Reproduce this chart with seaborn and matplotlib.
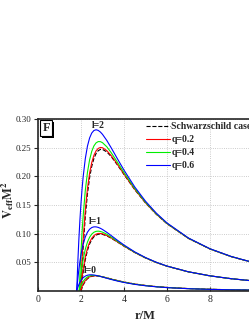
import matplotlib
matplotlib.use("Agg")
import matplotlib.pyplot as plt
import matplotlib.patheffects as pe
from matplotlib.lines import Line2D
import seaborn as sns

# radial grids (r/M) for each case
r_schw = [2.0, 2.05, 2.1, 2.2, 2.3, 2.4, 2.5, 2.6, 2.7, 2.8, 2.9, 3.0, 3.2, 3.4, 3.7,
          4.0, 4.5, 5, 5.5, 6, 7, 8, 9, 10, 11]
r_q02 = [1.98] + r_schw
r_q04 = [1.917, 1.95] + r_schw
r_q06 = [1.8, 1.85, 1.9, 1.95] + r_schw

# Schwarzschild case
v_schw_l0 = [0, 0.00566, 0.01028, 0.01707, 0.02144, 0.02411, 0.0256, 0.02626, 0.02635, 0.02603,
             0.02545, 0.02469, 0.02289, 0.02095, 0.01814, 0.01563, 0.01219, 0.0096, 0.00765,
             0.00617, 0.00417, 0.00293, 0.00213, 0.0016, 0.00123]
v_schw_l1 = [0, 0.01727, 0.03188, 0.05464, 0.07075, 0.08198, 0.0896, 0.09454, 0.09747, 0.09891,
             0.09925, 0.09876, 0.09613, 0.09219, 0.08527, 0.07813, 0.06706, 0.0576, 0.04973,
             0.04321, 0.03333, 0.02636, 0.02134, 0.0176, 0.01474]
v_schw_l2 = [0, 0.04048, 0.07507, 0.12977, 0.16938, 0.19772, 0.2176, 0.23109, 0.23972, 0.24469,
             0.24686, 0.24691, 0.24262, 0.23467, 0.21952, 0.20313, 0.17679, 0.1536, 0.13388,
             0.11729, 0.09164, 0.07324, 0.05976, 0.0496, 0.04178]

# q = 0.2
v_q02_l0 = [0, 0.00245, 0.00772, 0.01201, 0.01829, 0.02229, 0.0247, 0.026, 0.02652, 0.0265,
            0.02611, 0.02548, 0.02468, 0.02284, 0.02088, 0.01806, 0.01555, 0.01212, 0.00955,
            0.00761, 0.00614, 0.00415, 0.00291, 0.00212, 0.00159, 0.00123]
v_q02_l1 = [0, 0.00745, 0.02386, 0.03772, 0.05927, 0.07446, 0.08498, 0.09204, 0.09655, 0.09914,
            0.1003, 0.10042, 0.09974, 0.09685, 0.09271, 0.08561, 0.07836, 0.06718, 0.05768,
            0.04977, 0.04325, 0.03335, 0.02637, 0.02135, 0.0176, 0.01475]
v_q02_l2 = [0, 0.01745, 0.05613, 0.08914, 0.14122, 0.1788, 0.20554, 0.22414, 0.2366, 0.2444,
            0.24867, 0.2503, 0.24987, 0.24486, 0.23639, 0.22072, 0.20398, 0.17731, 0.15393,
            0.1341, 0.11744, 0.09172, 0.07328, 0.05979, 0.04962, 0.04179]

# q = 0.4
v_q04_l0 = [0, 0.00407, 0.0092, 0.01337, 0.01674, 0.02159, 0.02457, 0.02626, 0.02703, 0.02717,
            0.02688, 0.02629, 0.02552, 0.02462, 0.02265, 0.02064, 0.0178, 0.0153, 0.01192,
            0.00939, 0.00749, 0.00605, 0.0041, 0.00287, 0.0021, 0.00158, 0.00121]
v_q04_l1 = [0, 0.01272, 0.0292, 0.04309, 0.05479, 0.07282, 0.08532, 0.09378, 0.09922, 0.10245,
            0.10403, 0.10438, 0.10385, 0.10264, 0.09895, 0.09427, 0.08663, 0.07905, 0.06757,
            0.05791, 0.04991, 0.04333, 0.03339, 0.02639, 0.02136, 0.01761, 0.01475]
v_q04_l2 = [0, 0.03001, 0.0692, 0.10254, 0.13089, 0.17527, 0.20682, 0.22881, 0.2436, 0.25301,
            0.25833, 0.26057, 0.26051, 0.25869, 0.25154, 0.24154, 0.2243, 0.20655, 0.17886,
            0.15493, 0.13477, 0.1179, 0.09196, 0.07342, 0.05988, 0.04968, 0.04183]

# q = 0.6
v_q06_l0 = [0, 0.00613, 0.01113, 0.01518, 0.01845, 0.02106, 0.02313, 0.02596, 0.02752, 0.02818,
            0.02823, 0.02785, 0.02718, 0.02633, 0.02536, 0.02433, 0.02222, 0.02015, 0.01731,
            0.01486, 0.01157, 0.00912, 0.00729, 0.00589, 0.004, 0.00282, 0.00206, 0.00155, 0.00119]
v_q06_l1 = [0, 0.02021, 0.03722, 0.05149, 0.06345, 0.07343, 0.08175, 0.09427, 0.10256, 0.10776,
            0.11066, 0.11188, 0.11185, 0.11093, 0.10935, 0.1073, 0.10233, 0.09677, 0.08828,
            0.08017, 0.06819, 0.05828, 0.05015, 0.04349, 0.03346, 0.02643, 0.02138, 0.01762, 0.01476]
v_q06_l2 = [0, 0.04838, 0.0894, 0.1241, 0.15345, 0.17818, 0.19898, 0.23087, 0.25264, 0.2669,
            0.27552, 0.27994, 0.2812, 0.28012, 0.27732, 0.27322, 0.26255, 0.25003, 0.23022,
            0.2108, 0.18144, 0.15658, 0.13588, 0.11868, 0.09236, 0.07366, 0.06002, 0.04977, 0.04189]

labels = ["Schwarzschild case", "q=0.2", "q=0.4", "q=0.6"]
colors = ["black", "#ff0000", "#00ee00", "#0000ff"]
styles = ["--", "-", "-", "-"]
r_sets = [r_schw, r_q02, r_q04, r_q06]
v_sets = [[v_schw_l0, v_schw_l1, v_schw_l2],
          [v_q02_l0, v_q02_l1, v_q02_l2],
          [v_q04_l0, v_q04_l1, v_q04_l2],
          [v_q06_l0, v_q06_l1, v_q06_l2]]

x_ticks = [0, 2, 4, 6, 8]
y_ticks = [0.05, 0.10, 0.15, 0.20, 0.25, 0.30]
y_tick_labels = ["0.05", "0.10", "0.15", "0.20", "0.25", "0.30"]

sns.set_style("ticks")
plt.rcParams["font.family"] = ["Liberation Serif", "DejaVu Serif"]
plt.rcParams["mathtext.fontset"] = "stix"

fig = plt.figure(figsize=(2.49, 3.23), dpi=100)
ax = fig.add_axes([0.1526, 0.0991, 0.8635, 0.5325])

for rr, vv, c, ls in zip(r_sets, v_sets, colors, styles):
    for v in vv:
        sns.lineplot(x=rr, y=v, color=c, linestyle=ls, linewidth=0.8,
                     sort=False, estimator=None, ax=ax)

ax.set_xlim(0, 10)
ax.set_ylim(0, 0.30)
ax.set_xticks(x_ticks)
ax.set_xticklabels([str(t) for t in x_ticks])
ax.set_yticks(y_ticks)
ax.set_yticklabels(y_tick_labels)
ax.grid(True, linestyle=":", color="#bbbbbb", linewidth=0.6)
ax.tick_params(axis="x", direction="in", length=3, labelsize=7, pad=3)
ax.tick_params(axis="y", direction="out", length=3, labelsize=6.5, pad=2)
for s in ax.spines.values():
    s.set_linewidth(1.2)

ax.set_xlabel("r/M", fontsize=9, fontweight="bold", labelpad=4)
ax.set_ylabel(r"$\mathbf{V}_{\mathbf{eff}}\mathbf{M}^{\mathbf{2}}$", fontsize=9)
ax.yaxis.set_label_coords(-0.1, 0.53)

handles = [Line2D([], [], color=c, linestyle=ls, linewidth=0.8)
           for c, ls in zip(colors, styles)]
ax.legend(handles, labels, loc="upper left", bbox_to_anchor=(0.485, 1.005),
          frameon=False, handlelength=2.4, handletextpad=0.2, labelspacing=0.42,
          borderaxespad=0, prop={"family": "Liberation Serif", "weight": "bold", "size": 7})

ax.text(2.8, 0.289, "l=2", fontsize=7, fontweight="bold", ha="center", va="center")
ax.text(2.65, 0.121, "l=1", fontsize=7, fontweight="bold", ha="center", va="center")
ax.text(2.42, 0.036, "l=0", fontsize=7, fontweight="bold", ha="center", va="center")

t = ax.text(0.38, 0.284, "F", fontsize=9, fontweight="bold", ha="center", va="center",
            bbox=dict(boxstyle="square,pad=0.15", fc="white", ec="black", lw=0.8))
t.get_bbox_patch().set_path_effects([pe.SimplePatchShadow(offset=(1.2, -1.2),
                                                          shadow_rgbFace="black", alpha=1),
                                     pe.Normal()])

fig.savefig("out.png", dpi=100)
